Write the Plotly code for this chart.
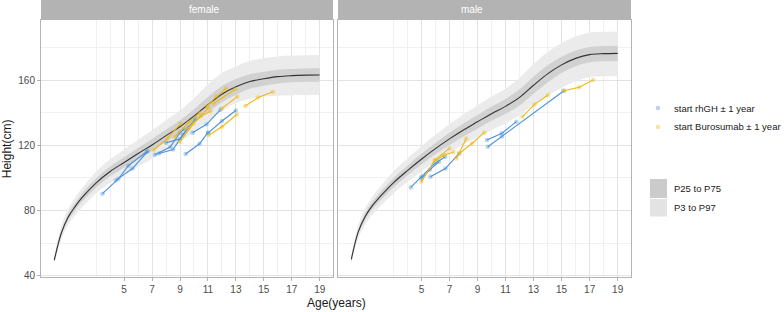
import plotly.graph_objects as go

# ---------------- reference curves ----------------
ref_age = [0, 0.5, 1, 1.5, 2, 3, 4, 5, 6, 7, 8, 9, 10, 11, 12, 13, 14, 15, 16, 17, 18, 19]

f_p3  = [46.9, 62, 71, 77, 82, 90.5, 97, 102, 107, 111.8, 117, 122, 128.5, 135, 141, 146, 148.5, 150, 150.6, 150.9, 151, 151]
f_p25 = [48.4, 64.4, 74, 80.2, 85.5, 94.2, 101, 106.3, 111.6, 116.7, 122.2, 127.5, 133.7, 140.2, 146.5, 151.2, 154.8, 156.7, 158.1, 158.8, 159.1, 159.2]
f_p50 = [49.4, 66, 76, 82.5, 88, 97, 104, 109.5, 115, 120.3, 126, 131.5, 138, 145, 151.5, 156, 159.3, 161, 162.3, 162.9, 163.2, 163.3]
f_p75 = [50.4, 67.6, 78, 84.8, 90.5, 99.8, 107, 112.7, 118.4, 123.9, 129.8, 135.5, 142.3, 149.8, 156.5, 160.8, 163.8, 165.3, 166.5, 167, 167.3, 167.4]
f_p97 = [51.9, 70, 81, 88, 94, 104, 111.5, 117.5, 123.5, 129.3, 135.5, 141.5, 149, 157.5, 164.5, 168.5, 172, 173.6, 174.7, 175.2, 175.5, 175.6]

m_p3  = [47.5, 63, 71.5, 77.5, 82, 90.5, 97.5, 104, 110, 115.5, 120.5, 125, 129.5, 133.5, 138.5, 145, 150.5, 155.5, 159.5, 161.9, 162.5, 162.7]
m_p25 = [49, 65.4, 74.5, 80.7, 85.5, 94.2, 101.5, 108.2, 114.5, 120.2, 125.5, 130.3, 135.1, 139.4, 144.5, 151.7, 158.7, 164.5, 168.7, 171.1, 171.7, 171.9]
m_p50 = [50, 67, 76.5, 83, 88, 97, 104.5, 111.5, 118, 124, 129.5, 134.5, 139.5, 144, 149.5, 157, 164, 169.5, 173.5, 175.8, 176.4, 176.6]
m_p75 = [51, 68.6, 78.5, 85.3, 90.5, 99.8, 107.5, 114.8, 121.5, 127.8, 133.5, 138.7, 143.9, 148.6, 154.5, 162.3, 169.3, 174.5, 178.3, 180.5, 181.1, 181.3]
m_p97 = [52.5, 71, 81.5, 88.5, 94, 104, 112, 119.5, 126.5, 133, 139, 144.5, 150, 155, 161.5, 170, 177.5, 183, 187, 189.2, 189.8, 190]

# ---------------- patient measurements ----------------
pt_id = [
    "F1", "F1", "F1", "F1",
    "F2", "F2", "F2",
    "F3", "F3", "F3", "F3",
    "F4", "F4", "F4", "F4",
    "F5", "F5", "F5",
    "F6", "F6", "F6",
    "F7", "F7", "F7",
    "F8", "F8", "F8",
    "FY1", "FY1", "FY1",
    "FY2", "FY2", "FY2",
    "FY3", "FY3", "FY3",
    "FY4", "FY4", "FY4",
    "FY5", "FY5",
    "FY6", "FY6", "FY6",
    "FY7", "FY7",
    "FY8", "FY8", "FY8",
    "FY9", "FY9", "FY9",
    "M1", "M1", "M1", "M1",
    "M2", "M2", "M2",
    "M3", "M3", "M3",
    "M4", "M4", "M4",
    "M5", "M5", "M5",
    "MY1", "MY1", "MY1",
    "MY2", "MY2", "MY2",
    "MY3", "MY3",
    "MY4", "MY4", "MY4",
    "MY5", "MY5", "MY5",
    "MY6", "MY6", "MY6",
]
pt_sex = (["female"] * 52) + (["male"] * 34)
pt_group = (
    ["rhGH"] * 25 + ["Burosumab"] * 27 +
    ["rhGH"] * 16 + ["Burosumab"] * 18
)
pt_age = [
    3.45, 4.6, 5.3, 6.6,
    4.4, 5.6, 6.7,
    7.2, 8.3, 9.0, 9.3,
    7.5, 8.5, 9.2, 10.1,
    9.4, 10.4, 11.0,
    9.9, 10.9, 11.9,
    11.0, 12.0, 13.0,
    8.0, 9.0, 9.6,
    7.1, 8.1, 9.05,
    9.0, 9.97, 11.05,
    11.05, 12.0, 13.07,
    13.67, 14.6, 15.65,
    12.0, 13.1,
    10.9, 11.6, 12.3,
    11.4, 12.95,
    9.5, 10.5, 11.2,
    8.6, 9.6, 10.4,
    4.24, 5.0, 5.95, 6.7,
    5.0, 5.6, 6.26,
    5.64, 6.71, 7.69,
    9.67, 10.74, 11.77,
    9.74, 10.74, 15.17,
    5.0, 5.95, 7.0,
    6.0, 6.6, 7.3,
    7.5, 8.2,
    7.7, 8.6, 9.5,
    12.2, 13.07, 14.04,
    15.17, 16.25, 17.25,
]
pt_height = [
    90.3, 99.5, 107.5, 116,
    98.5, 105.8, 116.5,
    114.3, 119, 128, 130,
    115, 117.5, 126.5, 136.5,
    114.7, 121, 128,
    127.8, 133, 142,
    127.5, 135, 141.5,
    121.6, 124, 131,
    117, 124.3, 133.5,
    122.3, 133.5, 143.4,
    126.2, 131.5, 139,
    144.2, 149.5, 153,
    142.8, 150,
    143.8, 150, 155,
    145.8, 154.5,
    130, 138, 141,
    125, 134, 140,
    94.2, 100.7, 108.9, 113,
    99.7, 105, 110,
    100.7, 105.8, 115.1,
    123.3, 127.4, 134.6,
    119.2, 125.5, 153.6,
    97.6, 111, 118.2,
    110.6, 114, 116,
    112, 124.3,
    115, 121.2, 128,
    137.6, 145.2, 151,
    153.6, 155.7, 160.2,
]

x_ticks = [5, 7, 9, 11, 13, 15, 17, 19]
x_minor = [3, 4, 6, 8, 10, 12, 14, 16, 18]
y_ticks = [40, 80, 120, 160]
y_minor = [60, 100, 140, 180]

group_label = {"rhGH": "start rhGH \u00b1 1 year", "Burosumab": "start Burosumab \u00b1 1 year"}
band_label = ["P25 to P75", "P3 to P97"]
line_col = {"rhGH": "#4A90D9", "Burosumab": "#EDB814"}
mark_col = {"rhGH": "rgba(74,144,217,0.4)", "Burosumab": "rgba(237,184,20,0.4)"}

LIGHT = "#EBEBEB"
DARK = "#D1D1D1"

W, H = 784, 312
ML, MR, MT, MB = 41, 153, 20, 35
PW, PH = W - ML - MR, H - MT - MB


def px_x(px):
    return (px - ML) / PW


def px_y(py):
    return (H - MB - py) / PH


fig = go.Figure()

curves = {
    "female": (f_p3, f_p25, f_p50, f_p75, f_p97, "x", "y"),
    "male": (m_p3, m_p25, m_p50, m_p75, m_p97, "x2", "y2"),
}
for sex, (p3, p25, p50, p75, p97, xa, ya) in curves.items():
    fig.add_trace(go.Scatter(x=ref_age, y=p3, mode="lines", line=dict(width=0, shape="spline"),
                             showlegend=False, hoverinfo="skip", xaxis=xa, yaxis=ya))
    fig.add_trace(go.Scatter(x=ref_age, y=p97, mode="lines", line=dict(width=0, shape="spline"),
                             fill="tonexty", fillcolor=LIGHT, showlegend=False,
                             hoverinfo="skip", xaxis=xa, yaxis=ya))
    fig.add_trace(go.Scatter(x=ref_age, y=p25, mode="lines", line=dict(width=0, shape="spline"),
                             showlegend=False, hoverinfo="skip", xaxis=xa, yaxis=ya))
    fig.add_trace(go.Scatter(x=ref_age, y=p75, mode="lines", line=dict(width=0, shape="spline"),
                             fill="tonexty", fillcolor=DARK, showlegend=False,
                             hoverinfo="skip", xaxis=xa, yaxis=ya))
    fig.add_trace(go.Scatter(x=ref_age, y=p50, mode="lines",
                             line=dict(width=1.1, color="#333333", shape="spline"),
                             showlegend=False, hoverinfo="skip", xaxis=xa, yaxis=ya))

# patient trajectories
order = []
for pid in pt_id:
    if pid not in order:
        order.append(pid)
for pid in order:
    idx = [k for k, p in enumerate(pt_id) if p == pid]
    sex = pt_sex[idx[0]]
    grp = pt_group[idx[0]]
    xa, ya = ("x", "y") if sex == "female" else ("x2", "y2")
    fig.add_trace(go.Scatter(
        x=[pt_age[k] for k in idx], y=[pt_height[k] for k in idx],
        mode="lines+markers",
        line=dict(color=line_col[grp], width=1.1),
        marker=dict(size=4.5, color=mark_col[grp]),
        showlegend=False, xaxis=xa, yaxis=ya))

axis_common = dict(
    range=[-0.95, 19.95], tickvals=x_ticks, ticktext=[str(v) for v in x_ticks],
    showgrid=True, gridcolor="#E3E3E3", gridwidth=1,
    minor=dict(tickvals=x_minor, showgrid=True, gridcolor="#F0F0F0", gridwidth=0.6),
    zeroline=False, showline=True, linecolor="#B3B3B3", linewidth=1, mirror=True,
    ticks="outside", ticklen=3, tickcolor="#B3B3B3",
    tickfont=dict(size=10, color="#4D4D4D"),
)
yaxis_common = dict(
    range=[39.1, 197.1],
    showgrid=True, gridcolor="#E3E3E3", gridwidth=1,
    minor=dict(tickvals=y_minor, showgrid=True, gridcolor="#F0F0F0", gridwidth=0.6),
    zeroline=False, showline=True, linecolor="#B3B3B3", linewidth=1, mirror=True,
    tickcolor="#B3B3B3", ticklen=3, tickvals=y_ticks,
    tickfont=dict(size=10, color="#4D4D4D"),
)

fig.update_layout(
    width=W, height=H,
    margin=dict(l=ML, r=MR, t=MT, b=MB, autoexpand=False),
    plot_bgcolor="white", paper_bgcolor="white",
    font=dict(family="Liberation Sans, Arial, sans-serif", size=11, color="#1A1A1A"),
    xaxis=dict(domain=[0, 0.4949], anchor="y", **axis_common),
    xaxis2=dict(domain=[0.5034, 1], anchor="y2", **axis_common),
    yaxis=dict(domain=[0, 1], anchor="x", ticks="outside", **yaxis_common),
    yaxis2=dict(domain=[0, 1], anchor="x2", matches="y", showticklabels=False, ticks="",
                **yaxis_common),
    showlegend=False,
)

# strips
for x0, x1, label in [(0, 0.4949, "female"), (0.5034, 1, "male")]:
    fig.add_shape(type="rect", xref="paper", yref="paper", x0=x0, x1=x1, y0=1.004, y1=1.078,
                  fillcolor="#B3B3B3", line=dict(width=0), layer="above")
    fig.add_annotation(x=(x0 + x1) / 2, y=1.041, xref="paper", yref="paper", text=label,
                       showarrow=False, yanchor="middle", font=dict(size=10, color="white"))

# axis titles
fig.add_annotation(x=0.5, y=-0.068, xref="paper", yref="paper", text="Age(years)",
                   showarrow=False, yanchor="top", font=dict(size=12, color="#1A1A1A"))
fig.add_annotation(x=-0.058, y=0.5, xref="paper", yref="paper", text="Height(cm)",
                   showarrow=False, textangle=-90, xanchor="center",
                   font=dict(size=12, color="#1A1A1A"))

# legend (drawn manually so it does not squeeze the panels)
LEG_FONT = dict(size=9.5, color="#1A1A1A")
for py, grp in [(108, "rhGH"), (127, "Burosumab")]:
    fig.add_shape(type="circle", xref="paper", yref="paper",
                  x0=px_x(655.7), x1=px_x(660.3), y0=px_y(py + 2.3), y1=px_y(py - 2.3),
                  fillcolor=mark_col[grp], line=dict(width=0))
    fig.add_annotation(x=px_x(672), y=px_y(py), xref="paper", yref="paper",
                       text=group_label[grp], showarrow=False, xanchor="left",
                       yanchor="middle", font=LEG_FONT)
for (y0, y1, py), col, label in zip([(179, 198, 188.5), (199, 216.5, 207.5)],
                                    ["#CBCBCB", "#E3E3E3"], band_label):
    fig.add_shape(type="rect", xref="paper", yref="paper",
                  x0=px_x(650), x1=px_x(667), y0=px_y(y1), y1=px_y(y0),
                  fillcolor=col, line=dict(width=0))
    fig.add_annotation(x=px_x(672), y=px_y(py), xref="paper", yref="paper",
                       text=label, showarrow=False, xanchor="left",
                       yanchor="middle", font=LEG_FONT)

fig.write_html("out.html", config={"displayModeBar": False},
               post_script="document.body.style.margin='0';")
